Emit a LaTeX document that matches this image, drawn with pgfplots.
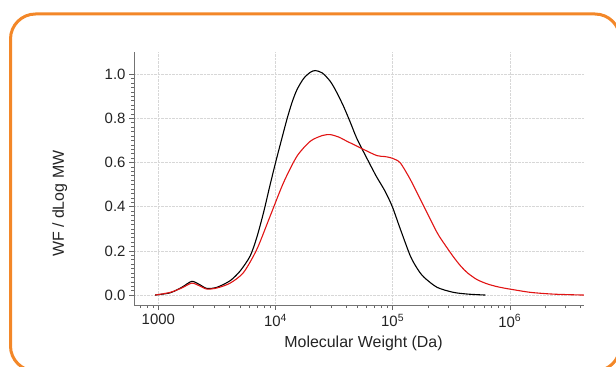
\documentclass[border=0pt]{standalone}
\usepackage{pgfplots}
\pgfplotsset{compat=1.18}
\usepackage{fontspec}
\setmainfont{Liberation Sans}
\definecolor{frameorange}{RGB}{243,135,40}
\definecolor{curvered}{RGB}{225,20,20}
\definecolor{gridgray}{RGB}{215,215,215}
\definecolor{txt}{RGB}{35,35,35}
\begin{document}
\begin{tikzpicture}
\useasboundingbox (0bp,0bp) rectangle (616bp,367bp);
\draw[frameorange, line width=3bp, rounded corners=25bp] (10.5bp,-4bp) rectangle (620bp,353bp);
\begin{axis}[
  at={(134bp,62bp)}, anchor=south west,
  scale only axis, width=450bp, height=253bp,
  xmode=log, xmin=620, xmax=4.3e6,
  ymin=-0.045, ymax=1.10,
  axis x line=bottom, axis y line=left,
  axis line style={-, draw=black!55, line width=0.6bp},
  tick align=outside,
  tick style={black!60, line width=0.5bp},
  major tick length=5bp, minor tick length=3bp,
  xtick={1000,1e4,1e5,1e6},
  minor xtick={700,800,900,2000,3000,4000,5000,6000,7000,8000,9000,
    2e4,3e4,4e4,5e4,6e4,7e4,8e4,9e4,2e5,3e5,4e5,5e5,6e5,7e5,8e5,9e5,2e6,3e6,4e6},
  xticklabels={1000,10\textsuperscript{4},10\textsuperscript{5},10\textsuperscript{6}},
  ytick={0,0.2,0.4,0.6,0.8,1.0},
  yticklabels={0.0,0.2,0.4,0.6,0.8,1.0},
  minor y tick num=9,
  ymajorgrids, xmajorgrids,
  major grid style={gridgray, densely dotted, line width=0.5bp},
  tick label style={font=\fontsize{15}{17}\selectfont, text=txt},
  xticklabel style={yshift=-1bp},
  xlabel={Molecular Weight (Da)},
  ylabel={WF / dLog MW},
  label style={font=\fontsize{16}{18}\selectfont, text=txt},
  xlabel style={at={(axis description cs:0.51,-0.15)}, anchor=center},
  ylabel style={at={(axis description cs:-0.165,0.40)}, anchor=center},
  clip=false,
]
\addplot[black, line width=1.1bp, smooth, tension=0.45] coordinates {
(940,0.000) (1259,0.010) (1585,0.035) (1928,0.062) (2239,0.048) (2594,0.030)
(3162,0.035) (4102,0.065) (5012,0.110) (6081,0.177) (6918,0.260) (7907,0.373)
(8913,0.490) (10000,0.598) (11220,0.700) (12503,0.794) (13804,0.870) (15241,0.929)
(17378,0.980) (19815,1.008) (21878,1.016) (25119,1.005) (29376,0.967) (33113,0.920)
(38107,0.854) (43652,0.780) (49545,0.708) (60395,0.618) (72444,0.538) (85114,0.475)
(98855,0.403) (116413,0.298) (141579,0.177) (162181,0.120) (184077,0.082)
(239332,0.035) (331894,0.012) (446684,0.004) (619441,0.000)
};
\addplot[curvered, line width=1.1bp, smooth, tension=0.45] coordinates {
(940,0.000) (1259,0.012) (1585,0.032) (1928,0.054) (2239,0.042) (2594,0.027)
(3162,0.032) (4102,0.054) (5333,0.102) (6934,0.207) (9016,0.358) (11695,0.508)
(15241,0.628) (19815,0.696) (25119,0.722) (29376,0.726) (34674,0.715) (40738,0.696)
(47863,0.678) (56494,0.659) (73451,0.631) (85114,0.627) (95499,0.622) (104713,0.614)
(116413,0.598) (141579,0.523) (184077,0.403) (239332,0.283) (281838,0.225)
(331131,0.172) (380189,0.132) (436516,0.100) (524807,0.070) (645654,0.050)
(794328,0.037) (1e6,0.027) (1513561,0.012) (2398833,0.004) (4285500,0.000)
};
\end{axis}
\end{tikzpicture}
\end{document}
